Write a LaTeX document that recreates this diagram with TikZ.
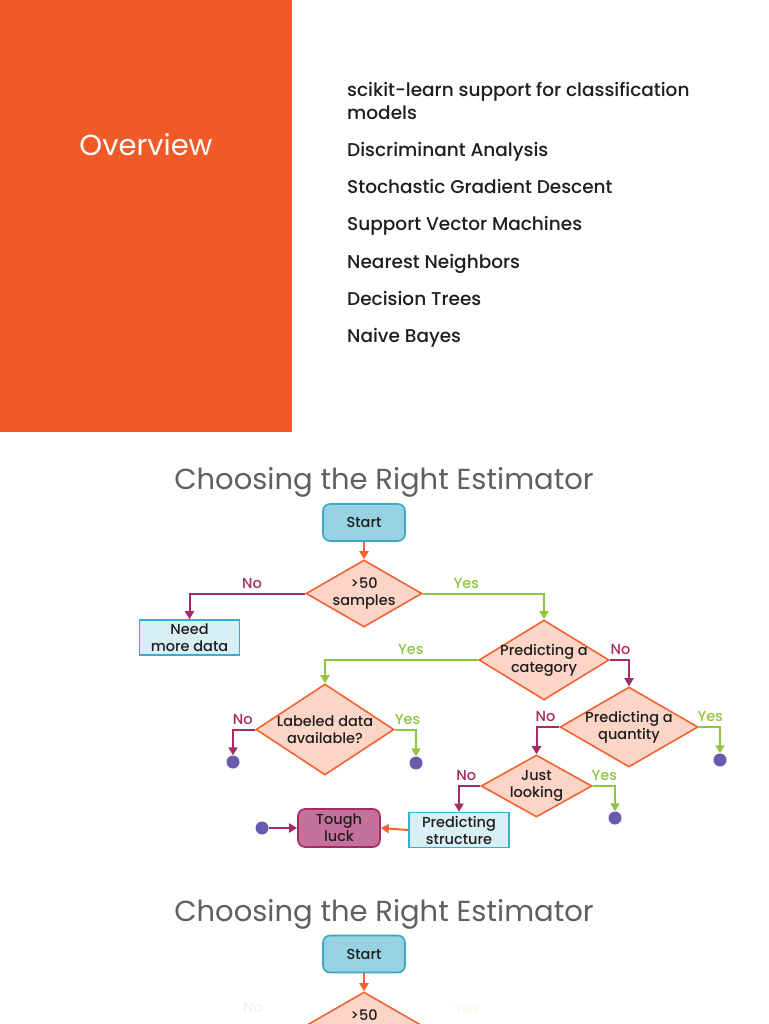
\documentclass[tikz,border=0pt]{standalone}
\usepackage{fontspec}
\setmainfont{Poppins}
\newfontfamily\medfont{Poppins Medium}
\usetikzlibrary{shapes.geometric,arrows.meta}
\definecolor{panel}{HTML}{F05A28}
\definecolor{dfill}{HTML}{FCD5C6}
\definecolor{dline}{HTML}{F26232}
\definecolor{sfill}{HTML}{96D2E1}
\definecolor{sline}{HTML}{3BA7C6}
\definecolor{rfill}{HTML}{D8EFF5}
\definecolor{rline}{HTML}{35AED2}
\definecolor{noc}{HTML}{A62B63}
\definecolor{yesc}{HTML}{8DC640}
\definecolor{tfill}{HTML}{C4729C}
\definecolor{dotc}{HTML}{6A5AAE}
\definecolor{titlec}{HTML}{5F5F5F}
\definecolor{txt}{HTML}{1E1E1E}
\tikzset{
  nodetext/.style={font=\medfont\fontsize{14.5}{17}\selectfont, text=txt, align=center},
  startbox/.style={draw=sline, fill=sfill, line width=1.6pt, rounded corners=7pt, minimum width=82pt, minimum height=37pt, nodetext},
  rectbox/.style={draw=rline, fill=rfill, line width=1.6pt, minimum width=100pt, minimum height=35pt, inner sep=1pt, nodetext},
  toughbox/.style={draw=noc, fill=tfill, line width=1.6pt, rounded corners=7pt, minimum width=82pt, minimum height=38pt, inner sep=1pt, nodetext},
  decision/.style={diamond, draw=dline, fill=dfill, line width=1.6pt, inner sep=0pt, minimum width=#1},
  dtext/.style={nodetext},
  enddot/.style={circle, fill=dotc, minimum size=13pt, inner sep=0pt},
  noarrow/.style={draw=noc, line width=2pt, -{Triangle[length=8pt,width=9pt]}},
  yesarrow/.style={draw=yesc, line width=2pt, -{Triangle[length=8pt,width=9pt]}},
  orarrow/.style={draw=dline, line width=2pt, -{Triangle[length=8pt,width=9pt]}},
  nolab/.style={font=\medfont\fontsize{14.5}{17}\selectfont, text=noc, anchor=south, yshift=1pt},
  yeslab/.style={font=\medfont\fontsize{14.5}{17}\selectfont, text=yesc, anchor=south, yshift=1pt},
  listitem/.style={font=\medfont\fontsize{18.5}{23}\selectfont, text=txt, anchor=base west, inner sep=0pt},
  titletext/.style={font=\fontsize{29}{34}\selectfont, text=titlec}
}
\begin{document}
\begin{tikzpicture}[x=1pt,y=-1pt]
\useasboundingbox (0,0) rectangle (768,1024);
\clip (0,0) rectangle (768,1024);
% overview panel
\fill[panel] (0,0) rectangle (292,432);
\node[font=\fontsize{29}{34}\selectfont, text=white] (ov) at (146,145) {Overview};
\node[listitem, align=left] (l1) at (347,120) {scikit-learn support for classification\\models};
\node[listitem] (l2) at (347,157) {Discriminant Analysis};
\node[listitem] (l3) at (347,194) {Stochastic Gradient Descent};
\node[listitem] (l4) at (347,231) {Support Vector Machines};
\node[listitem] (l5) at (347,268) {Nearest Neighbors};
\node[listitem] (l6) at (347,305) {Decision Trees};
\node[listitem] (l7) at (347,342) {Naive Bayes};

% flowchart 1
\node[titletext] (t1) at (384,482) {Choosing the Right Estimator};
\node[startbox] (start) at (364,522.5) {Start};
\node[decision=116pt, minimum height=67pt, label={[dtext]center:{>50\\samples}}] (d1) at (364,593.5) {};
\node[rectbox] (need) at (189.5,637.5) {Need\\more data};
\node[decision=130pt, minimum height=80pt, label={[dtext]center:{Predicting a\\category}}] (d2) at (544,660) {};
\node[decision=138pt, minimum height=91pt, label={[dtext]center:{Labeled data\\available?}}] (d3) at (325,729.5) {};
\node[decision=138pt, minimum height=80pt, label={[dtext]center:{Predicting a\\quantity}}] (d4) at (629,727) {};
\node[decision=111pt, minimum height=62pt, label={[dtext]center:{Just\\looking}}] (d5) at (536.5,786) {};
\node[rectbox] (struct) at (459,830) {Predicting\\structure};
\node[toughbox] (tough) at (339,828) {Tough\\luck};
\node[enddot] (e1) at (233,762) {};
\node[enddot] (e2) at (416,763) {};
\node[enddot] (e3) at (720,760) {};
\node[enddot] (e4) at (615,818) {};
\node[enddot] (e5) at (262,828) {};

\draw[orarrow] (start.south) -- (d1.north);
\draw[noarrow] (d1.west) -| node[nolab, pos=.23] {No} (need.north);
\draw[yesarrow] (d1.east) -| node[yeslab, pos=.18] {Yes} (d2.north);
\draw[yesarrow] (d2.west) -| node[yeslab, pos=.22] {Yes} (d3.north);
\draw[noarrow] (d2.east) -| node[nolab, pos=.28] {No} (d4.north);
\draw[noarrow] (d3.west) -| node[nolab, pos=.28] {No} (e1.north);
\draw[yesarrow] (d3.east) -| node[yeslab, pos=.3] {Yes} (e2.north);
\draw[noarrow] (d4.west) -| node[nolab, pos=.3] {No} (d5.north);
\draw[yesarrow] (d4.east) -| node[yeslab, pos=.27] {Yes} (e3.north);
\draw[noarrow] (d5.west) -| node[nolab, pos=.33] {No} (struct.north);
\draw[yesarrow] (d5.east) -| node[yeslab, pos=.26] {Yes} (e4.north);
\draw[orarrow] (struct.west) -- (tough.east);
\draw[noarrow] (e5.east) -- (tough.west);

% flowchart 2 (cut off at the page edge)
\node[titletext] (t2) at (384,914) {Choosing the Right Estimator};
\node[startbox] (start2) at (364,954) {Start};
\node[decision=116pt, minimum height=67pt, label={[dtext, yshift=10pt]center:{>50}}] (d21) at (364,1025.5) {};
\draw[orarrow] (start2.south) -- (d21.north);
\node[nolab, text=noc!7, anchor=center] (n21) at (253,1009) {No};
\node[yeslab, text=yesc!10, anchor=center] (y21) at (467,1010) {Yes};
\end{tikzpicture}
\end{document}
